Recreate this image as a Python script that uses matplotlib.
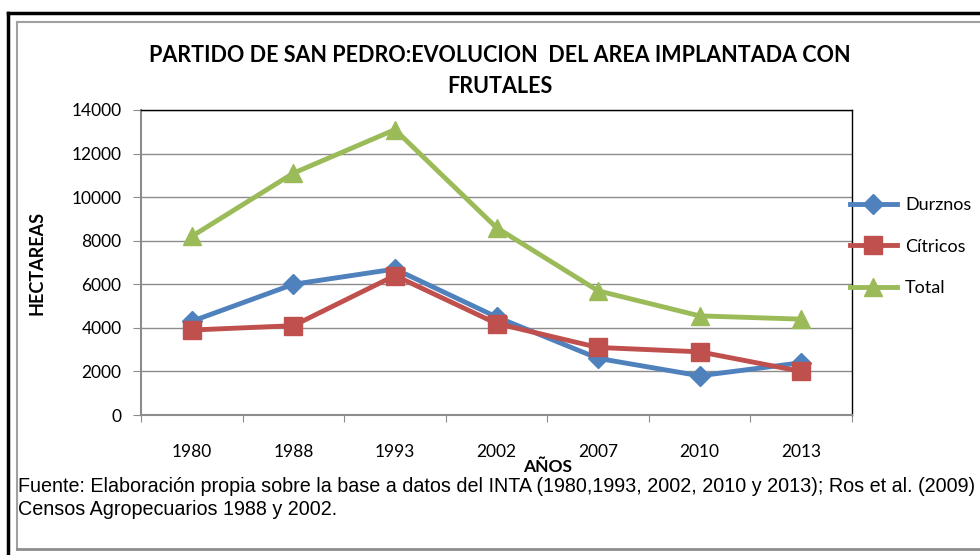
import matplotlib
matplotlib.use('Agg')
import matplotlib.pyplot as plt
from matplotlib.lines import Line2D

plt.rcParams['font.family'] = ['Lato', 'DejaVu Sans']

# --- Data ---
years = ['1980', '1988', '1993', '2002', '2007', '2010', '2013']
durznos = [4300, 6000, 6700, 4500, 2600, 1800, 2400]
citricos = [3900, 4100, 6400, 4200, 3100, 2900, 2000]
total = [8200, 11100, 13100, 8600, 5700, 4550, 4400]

title = 'PARTIDO DE SAN PEDRO:EVOLUCION  DEL AREA IMPLANTADA CON\nFRUTALES'
fuente = ('Fuente: Elaboración propia sobre la base a datos del INTA (1980,1993, 2002, 2010 y 2013); '
          'Ros et al. (2009)\nCensos Agropecuarios 1988 y 2002.')

blue = '#4F81BD'
red = '#C0504D'
green = '#9BBB59'

fig = plt.figure(figsize=(9.8, 5.55), dpi=100)
ax = fig.add_axes([141 / 980, 140 / 555, 711 / 980, 305 / 555])

x = list(range(len(years)))
ax.plot(x, durznos, color=blue, lw=3.5, marker='D', ms=10, label='Durznos', zorder=3)
ax.plot(x, citricos, color=red, lw=3.5, marker='s', ms=12.5, label='Cítricos', zorder=4)
ax.plot(x, total, color=green, lw=3.5, marker='^', ms=13.5, label='Total', zorder=3)

ax.set_xlim(-0.5, len(years) - 0.5)
ax.set_ylim(0, 14000)
ax.set_yticks(range(0, 14001, 2000))
ax.yaxis.grid(True, color='#8c8c8c', lw=1)
ax.set_axisbelow(True)

# category ticks between groups, labels centered
ax.set_xticks([i - 0.5 for i in range(len(years) + 1)])
ax.set_xticklabels([])
ax.set_xticks(x, minor=True)
ax.set_xticklabels(years, minor=True, fontsize=12.5)
ax.tick_params(axis='x', which='minor', length=0, pad=21)
ax.tick_params(axis='x', which='major', length=5, color='#8c8c8c', direction='out')
ax.tick_params(axis='y', length=6, color='#8c8c8c', labelsize=12.5, pad=8)

for s in ['left', 'bottom']:
    ax.spines[s].set_color('#8c8c8c')
    ax.spines[s].set_linewidth(1.5)
for s in ['top', 'right']:
    ax.spines[s].set_color('black')
    ax.spines[s].set_linewidth(1)

ax.set_ylabel('HECTAREAS', fontsize=13, fontweight='bold', labelpad=19)
fig.text(548 / 980, 1 - 467 / 555, 'AÑOS', ha='center', va='center', fontsize=12.5,
         fontweight='bold')

fig.text(500 / 980, 1 - 71 / 555, title, ha='center', va='center', fontsize=15.5,
         fontweight='bold', linespacing=1.55)

leg = ax.legend(loc='center left', bbox_to_anchor=(0.997, 0.552), frameon=False,
                fontsize=13, handlelength=2.6, labelspacing=1.4, borderaxespad=0,
                handletextpad=0.45, borderpad=0)

fig.text(18 / 980, 1 - 498 / 555, fuente, ha='left', va='center', fontsize=14.2,
         family='Liberation Sans', linespacing=1.3)

# frames around the chart
fig.add_artist(Line2D([8 / 980, 8 / 980], [0, 1 - 13 / 555], color='black', lw=2.5,
                      transform=fig.transFigure))
fig.add_artist(Line2D([8 / 980, 1], [1 - 13 / 555, 1 - 13 / 555], color='black', lw=2.5,
                      transform=fig.transFigure))
fig.add_artist(Line2D([17 / 980, 17 / 980], [1 - 549 / 555, 1 - 22 / 555], color='#a0a0a0',
                      lw=1.5, transform=fig.transFigure))
fig.add_artist(Line2D([17 / 980, 1], [1 - 22 / 555, 1 - 22 / 555], color='#a0a0a0',
                      lw=1.5, transform=fig.transFigure))
fig.add_artist(Line2D([17 / 980, 1], [1 - 549 / 555, 1 - 549 / 555], color='#8c8c8c',
                      lw=2, transform=fig.transFigure))

fig.savefig('out.png', dpi=100)
